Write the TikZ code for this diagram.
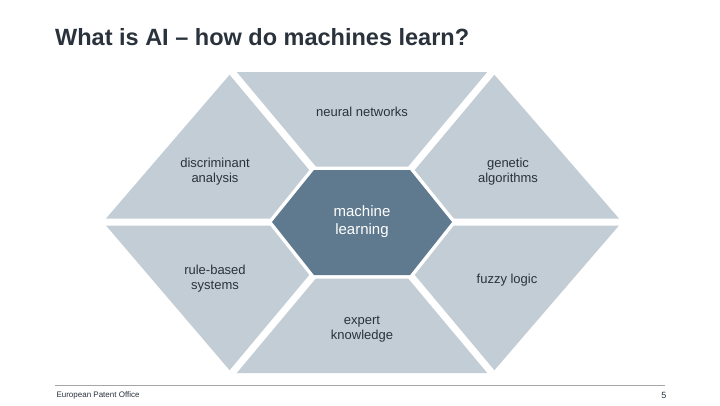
\documentclass[tikz,border=0pt]{standalone}
\usepackage{fontspec}
\setmainfont{Liberation Sans}
\begin{document}
\begin{tikzpicture}[x=1pt,y=-1pt,
  seg/.style={fill=segc,draw=none},
  lbl/.style={text=txt,font=\fontsize{13}{15}\selectfont,align=center},
  gap/.style={draw=white,line width=7pt}]
\definecolor{segc}{HTML}{C3CDD5}
\definecolor{cen}{HTML}{5F7A8E}
\definecolor{txt}{HTML}{2A323C}
\useasboundingbox (0,0) rectangle (720,405);
\fill[white] (0,0) rectangle (720,405);
\node[anchor=west,text=txt,font=\bfseries\fontsize{23.5}{28}\selectfont,inner sep=0pt] (title) at (55,37) {What is AI -- how do machines learn?};
% outer hexagon
\coordinate (o1) at (232,72); \coordinate (o2) at (492,72); \coordinate (o3) at (622,222);
\coordinate (o4) at (492,373); \coordinate (o5) at (232,373); \coordinate (o6) at (103,222);
\coordinate (i1) at (314,170); \coordinate (i2) at (410,170); \coordinate (i3) at (452,222);
\coordinate (i4) at (410,275); \coordinate (i5) at (314,275); \coordinate (i6) at (272,222);
\fill[seg] (o1)--(o2)--(o3)--(o4)--(o5)--(o6)--cycle;
\draw[gap] (i1)--(o1) (i2)--(o2) (i3)--(o3) (i4)--(o4) (i5)--(o5) (i6)--(o6);
\draw[gap,line join=miter] (i1)--(i2)--(i3)--(i4)--(i5)--(i6)--cycle;
\fill[cen] (i1)--(i2)--(i3)--(i4)--(i5)--(i6)--cycle;
\node[lbl] (nn) at (362,112) {neural networks};
\node[lbl] (da) at (215,172) {discriminant\\analysis};
\node[lbl] (ga) at (508,172) {genetic\\algorithms};
\node[lbl,text=white,font=\fontsize{15}{18}\selectfont] (ml) at (362,222) {machine\\learning};
\node[lbl] (rb) at (215,279) {rule-based\\systems};
\node[lbl] (fl) at (507,280) {fuzzy logic};
\node[lbl] (ek) at (362,329) {expert\\knowledge};
\draw[gray!70,line width=0.6pt] (55,385) -- (665,385);
\node[anchor=west,text=txt,font=\fontsize{8}{9}\selectfont] (epo) at (53,395) {European Patent Office};
\node[anchor=east,text=txt,font=\fontsize{9}{10}\selectfont] (pg) at (670,395) {5};
\end{tikzpicture}
\end{document}
